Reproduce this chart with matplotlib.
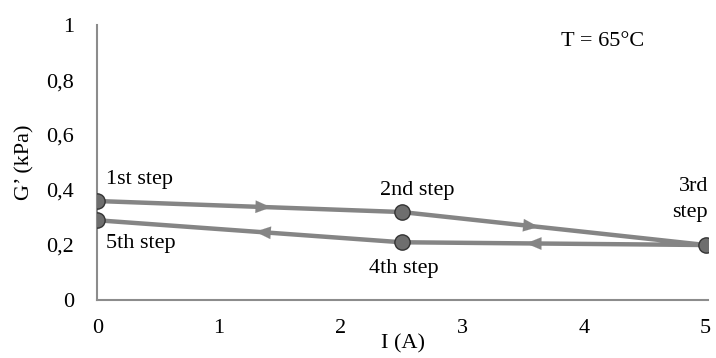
import numpy as np
import matplotlib.pyplot as plt

# ciclo de corriente: 0 -> 2.5 -> 5 -> 2.5 -> 0 A
corriente = [0, 2.5, 5, 2.5, 0]
g_prima = [0.36, 0.32, 0.20, 0.21, 0.29]
etiquetas = ["1st step", "2nd step", "3rd\nstep", "4th step", "5th step"]
# posición relativa de la flecha en cada tramo
frac_flecha = [0.56, 0.44, 0.58, 0.47]

x_ticks = [0, 1, 2, 3, 4, 5]
y_ticks = [0, 0.2, 0.4, 0.6, 0.8, 1.0]
y_ticklabels = ["0", "0,2", "0,4", "0,6", "0,8", "1"]

plt.rcParams['font.family'] = ['Liberation Serif', 'DejaVu Serif']

fig = plt.figure(figsize=(7.16, 3.58), dpi=100)
ax = fig.add_axes([0.136, 0.162, 0.853, 0.768])

gris = "#858585"
ax.plot(corriente, g_prima, color=gris, lw=3.2, zorder=2, solid_capstyle="butt")
ax.plot(corriente, g_prima, ls="none", marker="o", ms=11,
        mfc="#6e6e6e", mec="#333333", mew=1.0, zorder=4)

# flechas de dirección sobre cada tramo
for i, f in enumerate(frac_flecha):
    x0, y0 = corriente[i], g_prima[i]
    x1, y1 = corriente[i + 1], g_prima[i + 1]
    xm, ym = x0 + f * (x1 - x0), y0 + f * (y1 - y0)
    dx, dy = (x1 - x0) * 0.02, (y1 - y0) * 0.02
    ax.annotate("", xy=(xm + dx, ym + dy), xytext=(xm - dx, ym - dy),
                arrowprops=dict(arrowstyle="-|>,head_length=1.1,head_width=0.45",
                                color=gris, lw=0.1), zorder=3)

fs = 16
ax.text(0.07, 0.44, etiquetas[0], fontsize=fs, ha="left", va="center")
ax.text(2.63, 0.40, etiquetas[1], fontsize=fs, ha="center", va="center")
ax.text(5.02, 0.365, etiquetas[2], fontsize=fs, ha="right", va="center",
        linespacing=1.5)
ax.text(2.52, 0.115, etiquetas[3], fontsize=fs, ha="center", va="center")
ax.text(0.07, 0.205, etiquetas[4], fontsize=fs, ha="left", va="center")
ax.text(4.15, 0.94, "T = 65°C", fontsize=fs, ha="center", va="center")

ax.set_xlim(0, 5.02)
ax.set_ylim(0, 1.0)
ax.set_xticks(x_ticks)
ax.set_yticks(y_ticks)
ax.set_yticklabels(y_ticklabels)
ax.tick_params(length=0, labelsize=fs, pad=14)
ax.tick_params(axis="y", pad=17)

for lado in ["top", "right"]:
    ax.spines[lado].set_visible(False)
for lado in ["left", "bottom"]:
    ax.spines[lado].set_color("#8c8c8c")
    ax.spines[lado].set_linewidth(1.5)

ax.set_xlabel("I (A)", fontsize=fs, labelpad=-3)
ax.set_ylabel("G’ (kPa)", fontsize=fs, labelpad=8)

fig.savefig("out.png", dpi=100)
